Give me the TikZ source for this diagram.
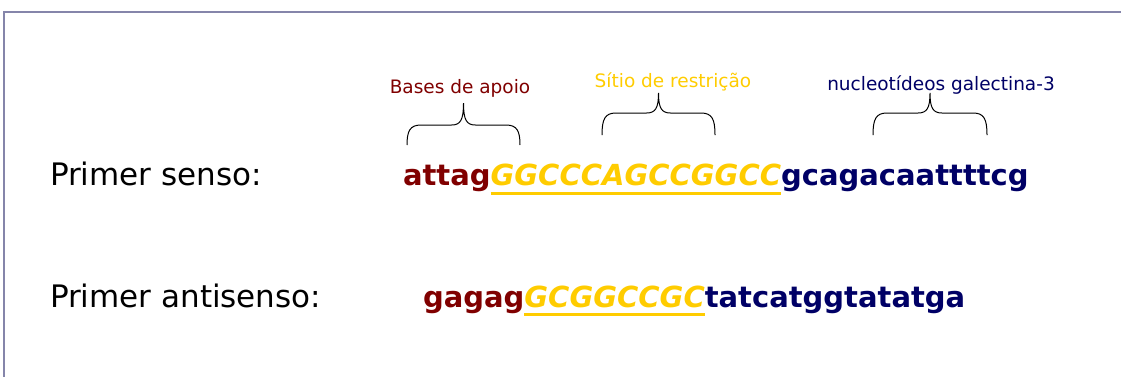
\documentclass[tikz,border=0pt]{standalone}
\usepackage{fontspec}
\setmainfont{DejaVu Sans}
\definecolor{dred}{RGB}{128,0,0}
\definecolor{gold}{RGB}{255,204,0}
\definecolor{navy}{RGB}{0,0,102}
\definecolor{frame}{RGB}{133,133,170}
\newcommand\mybrace[5]{% x1 x2 yend yflat ytip
  \draw[bracestyle] (#1,#3) .. controls (#1,{#4-6}) and ({#1+3},#4) .. ({#1+14},#4)
    -- ({(#1+#2)/2-12},#4) .. controls ({(#1+#2)/2-3},#4) and ({(#1+#2)/2},{#4+5}) .. ({(#1+#2)/2},#5)
    .. controls ({(#1+#2)/2},{#4+5}) and ({(#1+#2)/2+3},#4) .. ({(#1+#2)/2+12},#4)
    -- ({#2-14},#4) .. controls ({#2-3},#4) and (#2,{#4-6}) .. (#2,#3);}
\begin{document}
\begin{tikzpicture}[x=1pt,y=1pt,
  every node/.style={inner sep=0pt,outer sep=0pt,anchor=base west},
  primer/.style={font=\fontsize{31}{36}\selectfont,text=black},
  seq/.style={font=\fontsize{29}{34}\selectfont\bfseries},
  site/.style={seq,font=\fontsize{29}{34}\selectfont\bfseries\itshape,text=gold},
  lab/.style={font=\fontsize{18.5}{22}\selectfont,anchor=base},
  bracestyle/.style={draw=black,line width=1pt},
  uline/.style={draw=gold,line width=3pt}]
\useasboundingbox (0,-376) rectangle (1121,0);
\draw[frame,line width=2pt] (4,-380) |- (1125,-12);
% primer labels
\node[primer] (ps) at (50,-185) {Primer senso:};
\node[primer] (pa) at (50,-307) {Primer antisenso:};
% senso sequence
\node[seq,text=dred] (s1a) at (403,-185) {attag};
\node[site] (s1b) at (s1a.base east) {GGCCCAGCCGGCC};
\node[seq,text=navy] (s1c) at (s1b.base east) {gcagacaattttcg};
\draw[uline] ([yshift=-8pt]s1b.base west) -- ([yshift=-8pt]s1b.base east);
% antisenso sequence
\node[seq,text=dred] (s2a) at (423,-307) {gagag};
\node[site] (s2b) at (s2a.base east) {GCGGCCGC};
\node[seq,text=navy] (s2c) at (s2b.base east) {tatcatggtatatga};
\draw[uline] ([yshift=-7pt]s2b.base west) -- ([yshift=-7pt]s2b.base east);
% annotation labels
\node[lab,text=dred] (l1) at (460,-93) {Bases de apoio};
\node[lab,text=gold] (l2) at (673,-87) {Sítio de restrição};
\node[lab,text=navy] (l3) at (941,-90) {nucleotídeos galectina-3};
% braces
\mybrace{407}{520}{-145}{-125}{-103}
\mybrace{602}{715}{-135}{-113}{-93}
\mybrace{873}{987}{-135}{-113}{-93}
\end{tikzpicture}
\end{document}
